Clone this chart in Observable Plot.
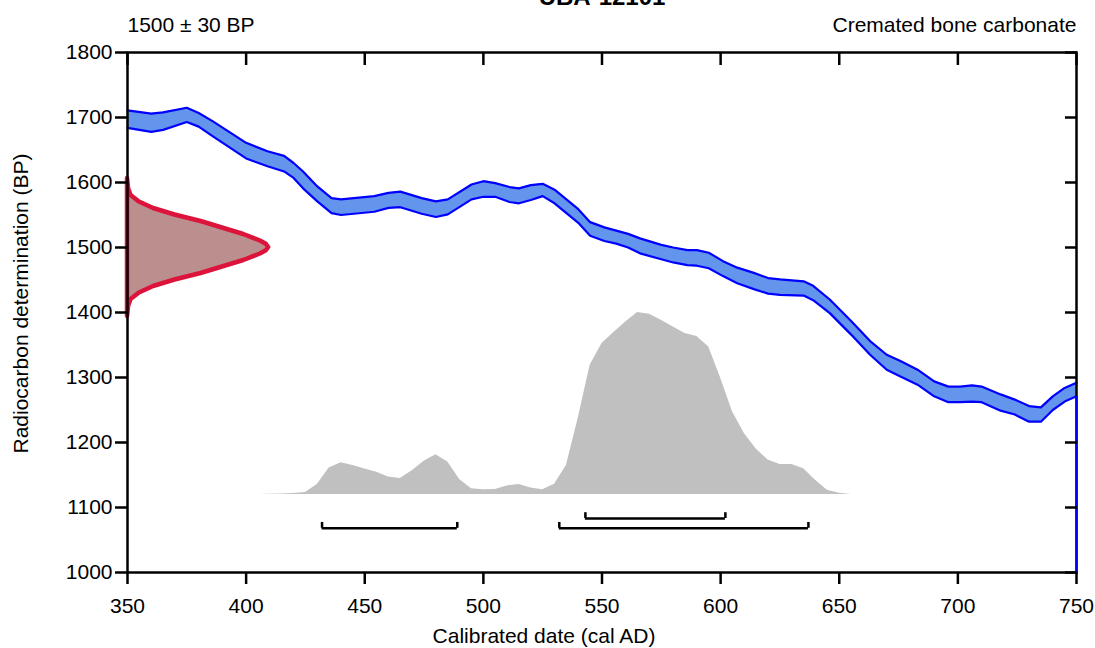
<!DOCTYPE html>
<html><head><meta charset="utf-8">
<script src="https://cdn.jsdelivr.net/npm/d3@7"></script>
<script src="https://cdn.jsdelivr.net/npm/@observablehq/plot@0.6"></script>
<style>
body{margin:0;background:#fff;}
#wrap{width:1095px;height:648px;overflow:hidden;}
</style></head>
<body><div id="wrap"></div>
<script>
// Title / annotation texts
const titleText = ["UBA-12101"];
const leftNote = ["1500 ± 30 BP"];
const rightNote = ["Cremated bone carbonate"];
const xLabel = ["Calibrated date (cal AD)"];
const yLabel = ["Radiocarbon determination (BP)"];

// Calibration curve band (cal AD, upper BP, lower BP)
const calYears = [350,360,365,375,380,386,400,409,416,420,424,430,436,440,454,460,465,474,480,485,495,500,505,511,515,520,525,530,535,540,545,551,556,561,566,575,580,586,590,595,601,607,614,620,625,635,639,646,655,663,670,676,683,690,696,701,706,710,718,724,730,735,740,745,750];
const calUpper = [1711,1706,1708,1715,1707,1694,1661,1648,1641,1630,1617,1594,1576,1574,1579,1584,1586,1576,1571,1574,1597,1602,1599,1593,1591,1596,1598,1589,1574,1559,1539,1531,1526,1521,1514,1504,1500,1496,1496,1492,1479,1469,1461,1453,1451,1448,1441,1420,1387,1356,1335,1325,1312,1294,1286,1286,1288,1286,1274,1266,1256,1254,1271,1284,1292];
const calLower = [1684,1678,1681,1693,1686,1671,1637,1625,1617,1607,1591,1571,1553,1550,1555,1561,1562,1552,1547,1551,1574,1578,1578,1570,1568,1573,1579,1568,1553,1538,1518,1510,1506,1500,1491,1482,1477,1473,1472,1468,1456,1445,1436,1429,1427,1426,1419,1399,1366,1335,1312,1301,1289,1271,1262,1262,1263,1262,1249,1243,1232,1232,1250,1263,1271];

// Measured radiocarbon distribution (BP vs relative width in years)
const measBP =    [1606,1590,1580,1570,1560,1550,1540,1530,1520,1510,1505,1500,1495,1490,1480,1470,1460,1450,1440,1430,1420,1410,1394];
const measWidth = [0,   0.5, 1.5, 5,   11,  20,  31,  40,  49,  56,  58.5,59.5,58.5,56,  49,  40,  31,  20,  11,  5,   1.5, 0.5, 0];

// Calibrated probability (relative)
const postYears = [405,410,415,420,425,430,435,440,445,450,455,460,465,470,475,480,485,490,495,500,505,510,515,520,525,530,535,540,545,550,555,560,565,570,575,580,585,590,595,600,605,610,615,620,625,630,635,640,645,650,655];
const postProb  = [0,0.002,0.003,0.005,0.011,0.055,0.145,0.174,0.16,0.14,0.122,0.096,0.088,0.13,0.183,0.219,0.178,0.082,0.032,0.026,0.027,0.047,0.055,0.036,0.026,0.056,0.16,0.42,0.71,0.83,0.89,0.948,1.0,0.991,0.958,0.921,0.885,0.868,0.81,0.64,0.455,0.335,0.25,0.19,0.165,0.165,0.142,0.078,0.023,0.007,0];

// Ranges
const range68 = [[543, 602]];
const range95 = [[432, 489], [532, 637]];

const xTicks = [350,400,450,500,550,600,650,700,750];
const yTicks = [1000,1100,1200,1300,1400,1500,1600,1700,1800];

const cal = calYears.map((x,i)=>({x, hi: calUpper[i], lo: calLower[i]}));
const meas = measBP.map((y,i)=>({y, w: measWidth[i]}));
const post = postYears.map((x,i)=>({x, p: postProb[i]}));
const X0 = 350, BASE = 1120, PEAK = 280;
const brackets = [
  ...range68.map(([a,b])=>({a,b,lev:1083})),
  ...range95.map(([a,b])=>({a,b,lev:1068}))
];
const blank = () => "";
const plain = d => String(d);
const FS = 21;

const chart = Plot.plot({
  width: 1095, height: 648,
  marginLeft: 127, marginRight: 19, marginTop: 52, marginBottom: 76,
  style: {fontFamily: "'Liberation Sans', Arial, sans-serif", fontSize: FS + "px", color: "black", background: "white", overflow: "visible"},
  x: {domain: [350, 750]},
  y: {domain: [1000, 1800]},
  marks: [
    Plot.areaY(post, {x: "x", y1: BASE, y2: d => BASE + PEAK * d.p, fill: "#c0c0c0"}),
    Plot.ruleY(brackets, {y: "lev", x1: "a", x2: "b", stroke: "black", strokeWidth: 2.5}),
    Plot.ruleX(brackets, {x: "a", y1: "lev", y2: d => d.lev + 9, stroke: "black", strokeWidth: 2.5}),
    Plot.ruleX(brackets, {x: "b", y1: "lev", y2: d => d.lev + 9, stroke: "black", strokeWidth: 2.5}),
    Plot.areaY(cal, {x: "x", y1: "lo", y2: "hi", fill: "#6495ed"}),
    Plot.line(cal, {x: "x", y: "hi", stroke: "#0000ff", strokeWidth: 2.2}),
    Plot.line(cal, {x: "x", y: "lo", stroke: "#0000ff", strokeWidth: 2.2}),
    Plot.areaX(meas, {y: "y", x1: X0, x2: d => X0 + d.w, fill: "rosybrown", stroke: "#dc143c", strokeWidth: 4.5, strokeLinejoin: "round"}),
    Plot.frame({stroke: "black", strokeWidth: 2.5}),
    Plot.ruleX([750], {y1: 1000, y2: calLower[calLower.length - 1], stroke: "#0000ff", strokeWidth: 2}),
    Plot.axisY({ticks: yTicks, tickSize: 12, tickPadding: 3, tickFormat: plain, label: null, strokeWidth: 2.5, fontSize: FS}),
    Plot.axisY({anchor: "right", ticks: yTicks, tickSize: -12, tickFormat: blank, label: null, strokeWidth: 2.5}),
    Plot.axisX({ticks: xTicks, tickSize: 12, tickPadding: 14, tickFormat: plain, label: null, strokeWidth: 2.5, fontSize: FS}),
    Plot.axisX({anchor: "top", ticks: xTicks, tickSize: -12, tickFormat: blank, label: null, strokeWidth: 2.5}),
    Plot.text(titleText, {text: d => d, frameAnchor: "top", dy: -48, lineAnchor: "bottom", fontWeight: "bold", fontSize: 24}),
    Plot.text(leftNote, {text: d => d, frameAnchor: "top-left", dy: -21, textAnchor: "start", lineAnchor: "bottom", fontSize: FS}),
    Plot.text(rightNote, {text: d => d, frameAnchor: "top-right", dy: -21, textAnchor: "end", lineAnchor: "bottom", fontSize: FS}),
    Plot.text(xLabel, {text: d => d, frameAnchor: "bottom", dx: -58, dy: 70, lineAnchor: "bottom", textAnchor: "middle", fontSize: FS}),
    Plot.text(yLabel, {text: d => d, frameAnchor: "left", dx: -106, dy: -9, rotate: -90, lineAnchor: "middle", textAnchor: "middle", fontSize: FS})
  ]
});
document.getElementById("wrap").appendChild(chart);
</script></body></html>
